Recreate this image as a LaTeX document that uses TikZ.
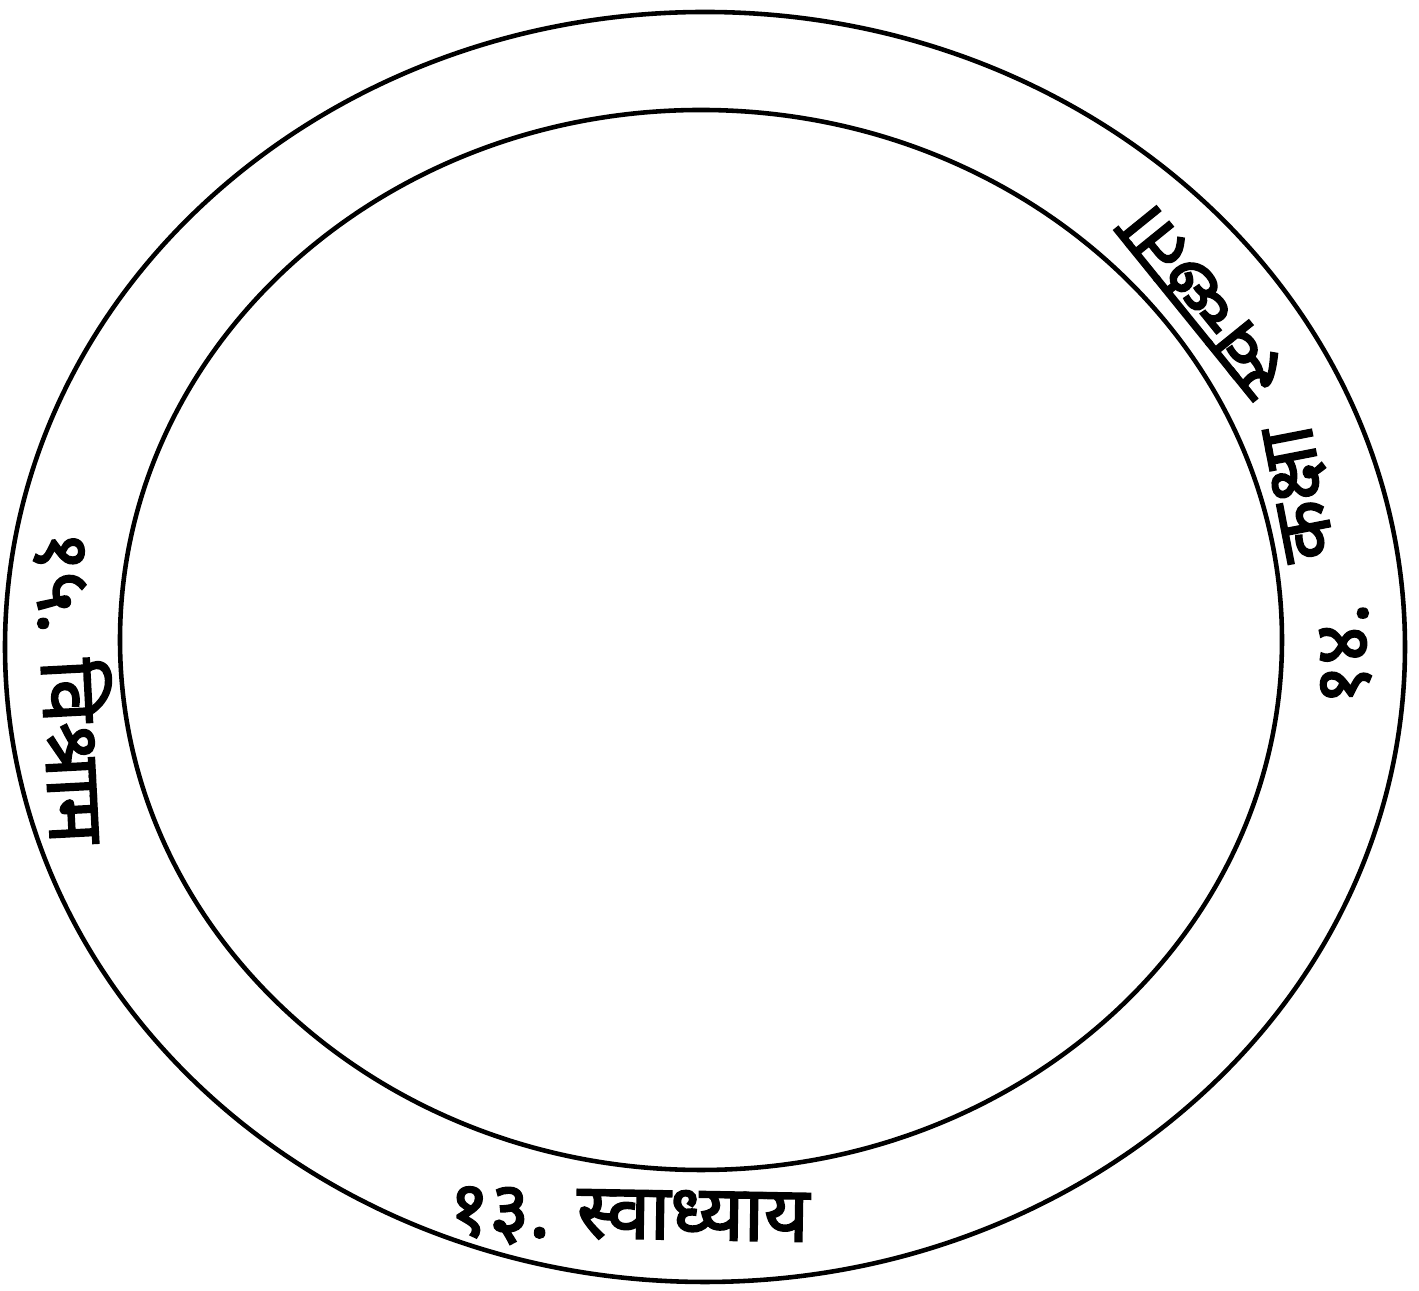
\documentclass[tikz,border=0pt]{standalone}
\usepackage{fontspec}
\newfontfamily\devfont[Script=Devanagari, AutoFakeBold=2.5]{Noto Sans}
\tikzset{
  % ring outlines
  ring/.style = {draw=black, line width=1.3pt},
  % labels set inside the band
  band/.style = {font=\devfont\fontsize{22}{26}\selectfont\bfseries, inner sep=0pt},
}
\begin{document}
\begin{tikzpicture}
  \useasboundingbox (0,0) rectangle (14.19,12.91);
  \coordinate (oc) at (7.05,6.44);
  \coordinate (ic) at (7.01,6.51);

  % the two rings
  \draw[ring] (oc) ellipse [x radius=7.00, y radius=6.35];
  \draw[ring] (ic) ellipse [x radius=5.81, y radius=5.30];

  % labels round the band
  \node[band, rotate=-1]  (l13)  at (6.29,0.73)  {१३. स्वाध्याय};
  \node[band, rotate=92]  (n14)  at (13.45,6.37) {१४.};
  \node[band, rotate=101] (w14a) at (13.02,7.98) {कक्षा};
  \node[band, rotate=129] (w14b) at (12.03,9.90) {स्वच्छता};
  \node[band, rotate=-87] (l15)  at (0.76,6.04)  {१५. विश्राम};
\end{tikzpicture}
\end{document}
